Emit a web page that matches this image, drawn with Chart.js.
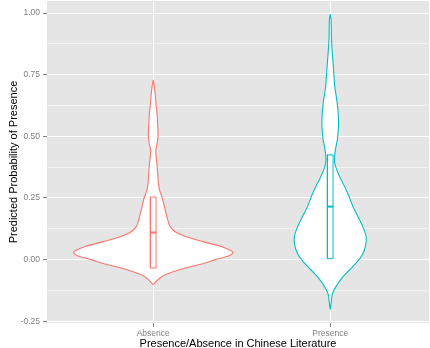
<!DOCTYPE html>
<html><head><meta charset="utf-8">
<script src="https://cdn.jsdelivr.net/npm/chart.js@4"></script>
<style>html,body{margin:0;padding:0;background:#fff}canvas{display:block}</style>
</head><body>
<canvas id="c" width="430" height="348"></canvas>
<script>
const categories = ['Absence', 'Presence'];
const seriesColors = ['#F8766D', '#00BFC4'];
const yTickValues = [-0.25, 0, 0.25, 0.5, 0.75, 1.0];

// violin outline: y level and half-width (in category units)
const absenceY = [0.729,0.704,0.680,0.648,0.615,0.583,0.547,0.522,0.498,0.474,0.445,0.421,0.397,0.364,0.332,0.304,0.279,0.251,0.227,0.186,0.154,0.134,0.113,0.093,0.073,0.053,0.036,0.028,0.016,0.000,-0.016,-0.032,-0.049,-0.065,-0.081,-0.093,-0.101];
const absenceHalfWidth = [0,0.006,0.010,0.014,0.018,0.023,0.025,0.027,0.027,0.023,0.015,0.016,0.020,0.024,0.027,0.030,0.037,0.051,0.059,0.073,0.085,0.096,0.124,0.186,0.282,0.384,0.441,0.450,0.429,0.350,0.282,0.192,0.113,0.056,0.028,0.011,0];
const presenceY = [0.995,0.972,0.891,0.818,0.769,0.700,0.648,0.595,0.547,0.514,0.486,0.453,0.421,0.393,0.364,0.332,0.300,0.259,0.215,0.170,0.130,0.093,0.057,0.024,-0.004,-0.032,-0.057,-0.081,-0.101,-0.121,-0.142,-0.170,-0.202];
const presenceHalfWidth = [0,0.005,0.007,0.014,0.019,0.026,0.037,0.045,0.047,0.044,0.040,0.031,0.025,0.025,0.037,0.056,0.079,0.105,0.128,0.160,0.186,0.203,0.200,0.184,0.158,0.122,0.088,0.059,0.040,0.023,0.011,0.006,0];

const boxLower = [-0.034, 0.004];
const boxMedian = [0.110, 0.215];
const boxUpper = [0.254, 0.425];

const boxHalfWidth = 0.016;
const FONT = '"Liberation Sans", Arial, Helvetica, sans-serif';

function violinPoints(center, ys, ws) {
  const pts = [];
  for (let i = 0; i < ys.length; i++) pts.push({x: center - ws[i], y: ys[i]});
  for (let i = ys.length - 2; i >= 0; i--) pts.push({x: center + ws[i], y: ys[i]});
  return pts;
}

const violins = [[absenceY, absenceHalfWidth], [presenceY, presenceHalfWidth]];
const datasets = [];
categories.forEach((cat, i) => {
  const c = i + 1;
  datasets.push({
    label: cat + ' violin',
    data: violinPoints(c, violins[i][0], violins[i][1]),
    showLine: true, fill: 'shape', backgroundColor: '#FFFFFF',
    borderColor: seriesColors[i], borderWidth: 1.1, pointRadius: 0, tension: 0.3, order: 2
  });
  datasets.push({
    label: cat + ' box',
    data: [
      {x: c - boxHalfWidth, y: boxLower[i]}, {x: c + boxHalfWidth, y: boxLower[i]},
      {x: c + boxHalfWidth, y: boxUpper[i]}, {x: c - boxHalfWidth, y: boxUpper[i]},
      {x: c - boxHalfWidth, y: boxLower[i]}
    ],
    showLine: true, fill: 'shape', backgroundColor: '#FFFFFF',
    borderColor: seriesColors[i], borderWidth: 1, pointRadius: 0, tension: 0, order: 1
  });
  datasets.push({
    label: cat + ' median',
    data: [{x: c - boxHalfWidth, y: boxMedian[i]}, {x: c + boxHalfWidth, y: boxMedian[i]}],
    showLine: true, fill: false, borderColor: seriesColors[i], borderWidth: 2,
    pointRadius: 0, tension: 0, order: 0
  });
});

const isMajor = v => yTickValues.some(t => Math.abs(t - v) < 1e-6);
const allYTicks = [];
for (let i = 0; i < yTickValues.length; i++) {
  allYTicks.push(yTickValues[i]);
  if (i < yTickValues.length - 1) allYTicks.push((yTickValues[i] + yTickValues[i + 1]) / 2);
}

const panelBg = {
  id: 'panelBg',
  beforeDraw(chart) {
    const {ctx, chartArea: a} = chart;
    ctx.save();
    ctx.fillStyle = '#E5E5E5';
    ctx.fillRect(a.left, a.top, a.right - a.left, a.bottom - a.top);
    ctx.restore();
  }
};

new Chart(document.getElementById('c'), {
  type: 'scatter',
  data: {datasets},
  plugins: [panelBg],
  options: {
    responsive: false, animation: false, devicePixelRatio: 1,
    layout: {padding: {top: 1, right: 1, left: 0, bottom: 0}},
    plugins: {legend: {display: false}, tooltip: {enabled: false}},
    scales: {
      x: {
        type: 'linear', min: 0.4, max: 2.558,
        afterBuildTicks: s => { s.ticks = categories.map((_, i) => ({value: i + 1})); },
        afterFit: s => { s.height = 25; s.paddingLeft = 0; s.paddingRight = 0; },
        ticks: {
          callback: v => categories[Math.round(v) - 1] || '',
          color: '#7F7F7F', font: {family: FONT, size: 8.5}, padding: 2, autoSkip: false, maxRotation: 0
        },
        grid: {color: '#FFFFFF', lineWidth: 1, tickColor: '#7F7F7F', tickLength: 4},
        border: {display: false},
        title: {
          display: true, text: 'Presence/Absence in Chinese Literature',
          color: '#000000', font: {family: FONT, size: 11, lineHeight: 1},
          padding: {top: 0, bottom: -1}
        }
      },
      y: {
        type: 'linear', min: -0.257, max: 1.049,
        afterBuildTicks: s => { s.ticks = allYTicks.map(v => ({value: v})); },
        afterFit: s => { s.width = 47; s.paddingTop = 0; s.paddingBottom = 0; },
        ticks: {
          callback: v => isMajor(v) ? v.toFixed(2) : '',
          color: '#7F7F7F', font: {family: FONT, size: 8.5}, padding: 3, autoSkip: false
        },
        grid: {
          color: c => (c.tick && isMajor(c.tick.value)) ? '#FFFFFF' : '#F2F2F2',
          lineWidth: 1,
          tickColor: c => (c.tick && isMajor(c.tick.value)) ? '#7F7F7F' : 'rgba(0,0,0,0)',
          tickLength: 4
        },
        border: {display: false},
        title: {
          display: true, text: 'Predicted Probability of Presence',
          color: '#000000', font: {family: FONT, size: 11, lineHeight: 1},
          padding: {top: 8.5, bottom: 0}
        }
      }
    }
  }
});
</script>
</body></html>
